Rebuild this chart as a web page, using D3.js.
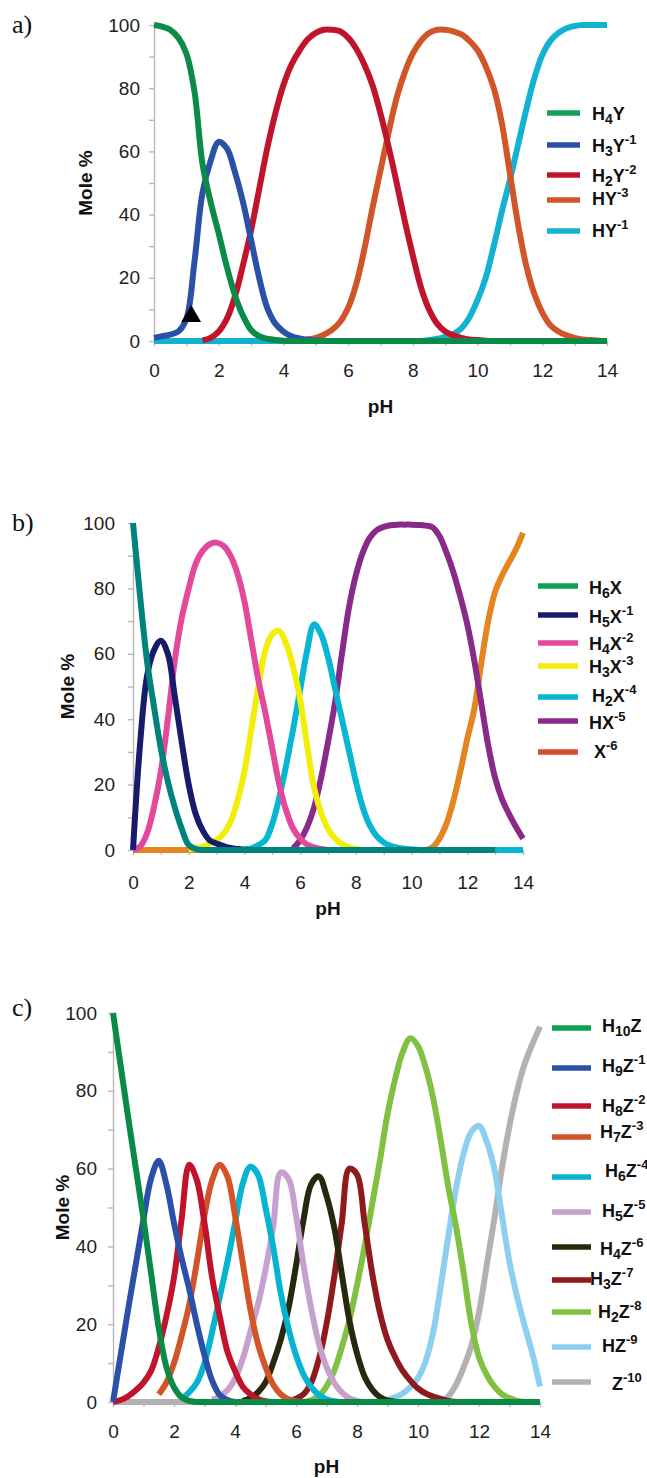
<!DOCTYPE html>
<html>
<head>
<meta charset="utf-8">
<script src="https://cdn.jsdelivr.net/npm/d3@7"></script>
<style>
  body { margin: 0; background: #fff; }
  svg text { font-family: "Liberation Sans", Arial, Helvetica, sans-serif; }
</style>
</head>
<body>
<svg id="chart" width="647" height="1478"></svg>
<script>
const _ = null; // no line drawn at this pH

// pH grid shared by every series (0.25 steps)
const pH = [
  0, 0.25, 0.5, 0.75, 1, 1.25, 1.5, 1.75, 2, 2.25, 2.5, 2.75, 3, 3.25, 3.5, 3.75,
  4, 4.25, 4.5, 4.75, 5, 5.25, 5.5, 5.75, 6, 6.25, 6.5, 6.75, 7, 7.25, 7.5, 7.75,
  8, 8.25, 8.5, 8.75, 9, 9.25, 9.5, 9.75, 10, 10.25, 10.5, 10.75, 11, 11.25, 11.5, 11.75,
  12, 12.25, 12.5, 12.75, 13, 13.25, 13.5, 13.75, 14
];
const xTicks = [0, 1, 2, 3, 4, 5, 6, 7, 8, 9, 10, 11, 12, 13, 14];
const xLabels = [0, 2, 4, 6, 8, 10, 12, 14];
const yTicks = [0, 10, 20, 30, 40, 50, 60, 70, 80, 90, 100];
const yLabels = [0, 20, 40, 60, 80, 100];

// ---- panel a ----
const aNames = ["H_4Y", "H_3Y^-1", "H_2Y^-2", "HY^-3", "HY^-1"];
const aH4Y = [
  100, 99.5, 98.5, 96,  91, 79, 56, 44,  34, 23.5, 14.5, 8,  3.5, 1.5, 0.7, 0.3,
  0.1, 0, 0, 0,  0, 0, 0, 0,  0, 0, 0, 0,  0, 0, 0, 0,
  0, 0, 0, 0,  0, 0, 0, 0,  0, 0, 0, 0,  0, 0, 0, 0,  0, 0, 0, 0,  0, 0, 0, 0,  0
];
const aH3Y = [
  1, 1.5, 2, 3,  7, 25, 47, 57,  63, 61, 53.5, 44,  32, 20, 10.5, 5.5,
  3, 1.5, 0.8, 0.4,  0.2, 0, 0, 0,  0, 0, 0, 0,  0, 0, 0, 0,
  0, 0, 0, 0,  0, 0, 0, 0,  0, 0, 0, 0,  0, 0, 0, 0,  0, 0, 0, 0,  0, 0, 0, 0,  0
];
const aH2Y = [
  _, _, _, _,  _, _, 0.2, 1,  3, 7, 14, 24,  35, 48, 61, 72,
  81, 87.5, 92, 95.5,  97.5, 98.5, 98.5, 98,  96, 92.5, 87.5, 81,  72, 61.5, 50, 38,
  27, 17, 10, 5.5,  3, 1.8, 1, 0.5,  0.3, 0.1, 0, 0,  0, 0, 0, 0,  0, 0, 0, 0,  0, 0, 0, 0,  0
];
const aHY3 = [
  _, _, _, _,  _, _, _, _,  _, _, _, _,  _, _, _, _,
  _, _, 0.2, 0.5,  1, 2, 3.5, 6,  10.5, 18, 29, 42,  54, 66, 77, 85,
  91, 95, 97.5, 98.5,  98.5, 98, 97, 95,  92, 87, 80, 69,  53, 37, 24, 15,  9, 5, 3, 1.8,  1, 0.5, 0.3, 0.1,  0
];
const aHY1 = [
  0, 0, 0, 0,  0, 0, 0, 0,  0, 0, 0, 0,  0, 0, 0, 0,
  0, 0, 0, 0,  0, 0, 0, 0,  0, 0, 0, 0,  0, 0, 0, 0,
  0, 0, 0.3, 0.7,  1.2, 2.2, 4, 7.5,  13, 20, 30, 41,  51, 62, 73, 83,  90.5, 95, 97.5, 99,  99.7, 100, 100, 100,  100
];
const aColors = ["#0b8a48", "#2a50a8", "#c0142c", "#d2552a", "#14b2d2"];
const aKeyColors = ["#14a05a", "#2a50a8", "#c0142c", "#d2552a", "#14b2d2"];
const markerPH = [1.15];
const markerMole = [7.8];

// ---- panel b ----
const bNames = ["H_6X", "H_5X^-1", "H_4X^-2", "H_3X^-3", "H_2X^-4", "HX^-5", "X^-6"];
const bH6X = [
  100, 78, 58, 44,  31, 21, 13, 6.5,  1.5, 0.3, 0, 0,  0, 0, 0, 0,
  0, 0, 0, 0,  0, 0, 0, 0,  0, 0, 0, 0,  0, 0, 0, 0,
  0, 0, 0, 0,  0, 0, 0, 0,  0, 0, 0, 0,  0, 0, 0, 0,  0, 0, 0, 0,  0, _, _, _,  _
];
const bH5X = [
  0, 32, 53, 61,  64, 60, 47, 33,  20, 11, 6, 3,  2, 1.2, 0.6, 0.3,
  0.1, 0, 0, 0,  0, 0, 0, 0,  0, 0, 0, 0,  0, 0, 0, 0,
  0, _, _, _,  _, _, _, _,  _, _, _, _,  _, _, _, _,  _, _, _, _,  _, _, _, _,  _
];
const bH4X = [
  0, 1, 5, 13,  24, 40, 58, 71,  80, 87.5, 91.5, 93.5,  94, 93, 90, 84.5,
  76, 64, 52, 42,  31, 20, 12, 6.5,  3.5, 1.7, 0.8, 0.3,  0, 0, 0, 0,
  0, _, _, _,  _, _, _, _,  _, _, _, _,  _, _, _, _,  _, _, _, _,  _, _, _, _,  _
];
const bH3X = [
  _, _, _, _,  _, _, _, _,  0.2, 0.5, 1, 2,  3, 5, 8.5, 15,
  24, 37, 50, 61,  66, 67, 63, 56,  46, 32, 19, 11.5,  6.5, 3.5, 1.8, 0.8,
  0.3, 0, 0, 0,  0, _, _, _,  _, _, _, _,  _, _, _, _,  _, _, _, _,  _, _, _, _,  _
];
const bH2X = [
  _, _, _, _,  _, _, _, _,  _, _, _, _,  _, _, _, _,
  0.2, 0.5, 1.5, 3,  8, 16, 26, 37,  49, 61, 69, 66,  59, 49.5, 40, 30.5,
  21, 13, 7.5, 4.2,  2.3, 1.3, 0.7, 0.4,  0.2, 0, 0, 0,  0, 0, 0, 0,  0, 0, 0, 0,  0, 0, 0, 0,  0
];
const bHX5 = [
  _, _, _, _,  _, _, _, _,  _, _, _, _,  _, _, _, _,
  _, _, _, _,  _, _, _, 0.5,  3, 7, 13, 22,  33, 45, 60, 74,
  84, 91, 95.5, 97.8,  98.8, 99.3, 99.5, 99.5,  99.5, 99.4, 99.2, 98.7,  96, 91, 85, 77.5,  69, 58, 45, 32,  22, 15.5, 11, 7,  3.5
];
const bX6 = [
  0, 0, 0, 0,  0, 0, 0, 0,  0, 0, 0, 0,  0, 0, 0, 0,
  0, 0, 0, 0,  0, 0, 0, 0,  0, 0, 0, 0,  0, 0, 0, 0,
  0, 0, 0, 0,  0, 0, 0, 0,  0, 0, 0, 0.8,  3.5, 8, 15, 24,  34, 43, 57, 70,  79, 84, 88, 92,  97
];
const bColors = ["#00837a", "#161b6c", "#e2489c", "#f2ee0a", "#06b6d2", "#8a2a88", "#e3861f"];
const bKeyColors = ["#0ca052", "#161b6c", "#e2489c", "#f2ee0a", "#06b6d2", "#8a2a88", "#d4502c"];

// ---- panel c ----
const cNames = ["H_10Z", "H_9Z^-1", "H_8Z^-2", "H_7Z^-3", "H_6Z^-4", "H_5Z^-5",
                "H_4Z^-6", "H_3Z^-7", "H_2Z^-8", "HZ^-9", "Z^-10"];
const cH10Z = [
  100, 86.5, 73, 60,  47, 33, 19, 9,  3.8, 1.2, 0.3, 0,  0, 0, 0, 0,
  0, 0, 0, 0,  0, 0, 0, 0,  0, 0, 0, 0,  0, 0, 0, 0,
  0, 0, 0, 0,  0, 0, 0, 0,  0, 0, 0, 0,  0, 0, 0, 0,  0, 0, 0, 0,  0, 0, 0, 0,  0
];
const cH9Z = [
  0, 12, 24, 35.5,  47, 57.5, 62, 56,  46, 37, 29, 20,  12, 5.5, 1.8, 0.5,
  0, 0, 0, 0,  0, _, _, _,  _, _, _, _,  _, _, _, _,
  _, _, _, _,  _, _, _, _,  _, _, _, _,  _, _, _, _,  _, _, _, _,  _, _, _, _,  _
];
const cH8Z = [
  0, 0.5, 1.5, 3,  5, 8, 14, 22,  32, 47, 61, 57,  46, 32, 22, 13,
  8, 4, 2, 0.8,  0.2, 0, 0, 0,  0, _, _, _,  _, _, _, _,
  _, _, _, _,  _, _, _, _,  _, _, _, _,  _, _, _, _,  _, _, _, _,  _, _, _, _,  _
];
const cH7Z = [
  _, _, _, _,  _, _, 2, 5,  10, 17, 25, 36,  48, 57, 61, 58,
  48, 36, 24, 15,  9, 4.5, 2, 0.7,  0.2, 0, 0, 0,  0, _, _, _,
  _, _, _, _,  _, _, _, _,  _, _, _, _,  _, _, _, _,  _, _, _, _,  _, _, _, _,  _
];
const cH6Z = [
  _, _, _, _,  _, _, _, _,  _, 0.8, 2.5, 5,  10, 18, 27, 36,
  46, 56, 60.5, 58.5,  50, 40, 28, 19,  12, 7, 3.8, 1.8,  0.7, 0.2, 0, 0,
  0, _, _, _,  _, _, _, _,  _, _, _, _,  _, _, _, _,  _, _, _, _,  _, _, _, _,  _
];
const cH5Z = [
  _, _, _, _,  _, _, _, _,  _, _, _, _,  _, 0.5, 1.5, 3,
  6, 11, 18, 25,  34, 45, 59, 57.5,  48, 35, 24, 15,  9, 5, 2.5, 1,
  0.3, 0, 0, 0,  0, _, _, _,  _, _, _, _,  _, _, _, _,  _, _, _, _,  _, _, _, _,  _
];
const cH4Z = [
  _, _, _, _,  _, _, _, _,  _, _, _, _,  _, _, _, _,
  _, 0.3, 1, 2.5,  5, 10, 16, 24,  35, 47, 56, 58,  53, 45, 33, 21,
  12.5, 6.5, 3.2, 1.3,  0.4, 0.1, 0, 0,  0, _, _, _,  _, _, _, _,  _, _, _, _,  _, _, _, _,  _
];
const cH3Z = [
  _, _, _, _,  _, _, _, _,  _, _, _, _,  _, _, _, _,
  _, _, _, _,  _, _, _, 0.3,  0.8, 2, 5, 11,  20, 32, 46, 60,
  58.5, 46, 33, 23,  16, 11.5, 8, 5.5,  3.5, 2.2, 1.4, 0.8,  0.3, 0, _, _,  _, _, _, _,  _, _, _, _,  _
];
const cH2Z = [
  _, _, _, _,  _, _, _, _,  _, _, _, _,  _, _, _, _,
  _, _, _, _,  _, _, _, _,  _, 0, 0.5, 1.5,  4, 8, 14, 21,
  30, 40, 51, 62,  74, 83, 90, 93.5,  91.5, 86, 78, 67,  55, 45, 33, 20,  11.5, 7, 4, 2,  1, 0.3, 0, _,  _
];
const cHZ = [
  _, _, _, _,  _, _, _, _,  _, _, _, _,  _, _, _, _,
  _, _, _, _,  _, _, _, _,  _, _, _, _,  _, _, _, _,
  _, _, _, 0,  0.5, 1.2, 2.2, 3.8,  6.2, 10.5, 18, 30,  43, 55, 64, 69.5,  71, 67, 60, 48,  36, 27, 19.5, 12.5,  4
];
const cZ = [
  0, 0, 0, 0,  0, 0, 0, 0,  0, 0, 0, 0,  0, 0, 0, 0,
  0, 0, 0, 0,  0, 0, 0, 0,  0, 0, 0, 0,  0, 0, 0, 0,
  0, 0, 0, 0,  0, 0, 0, 0,  0, 0, 0, 0,  1.5, 4.5, 9, 14.5,  23, 35, 47, 60,  71, 80, 87, 92,  96.5
];
const cColors = ["#0a8a48", "#2a50a8", "#c0142c", "#d2552a", "#06b4d2", "#c8a0d0",
                 "#28280f", "#8e1a1e", "#80c142", "#8ccff0", "#b2b2b2"];
const cKeyColors = ["#0ca052", "#2a50a8", "#c0142c", "#d2552a", "#06b4d2", "#c8a0d0",
                    "#28280f", "#8e1a1e", "#80c142", "#8ccff0", "#b2b2b2"];

// ---- layout ----
const panels = [
  {
    tag: "a)", tagY: 33,
    left: 154, right: 607, top: 25, bottom: 341,
    yPad: 9, xPad: 17.5, moleX: 85, pHY: 413, lineWidth: 6,
    names: aNames, values: [aH4Y, aH3Y, aH2Y, aHY3, aHY1], colors: aColors, keyColors: aKeyColors,
    key: { x1: 547, x2: 580,
           lineY: [113, 145, 175, 200, 231],
           textX: [592, 592, 592, 592, 592],
           textY: [120, 152, 182, 205, 237] },
    marker: true
  },
  {
    tag: "b)", tagY: 531,
    left: 133, right: 523, top: 523, bottom: 850,
    yPad: 13, xPad: 20.5, moleX: 67, pHY: 915, lineWidth: 6,
    names: bNames, values: [bH6X, bH5X, bH4X, bH3X, bH2X, bHX5, bX6], colors: bColors, keyColors: bKeyColors,
    key: { x1: 538, x2: 578,
           lineY: [586, 615, 643, 666, 697, 721, 752],
           textX: [589, 589, 589, 589, 592, 589, 594],
           textY: [594, 623, 650, 673, 702, 729, 758] }
  },
  {
    tag: "c)", tagY: 1016,
    left: 113, right: 540, top: 1013, bottom: 1402,
    yPad: 11, xPad: 17.5, moleX: 62, pHY: 1473, lineWidth: 6,
    names: cNames, values: [cH10Z, cH9Z, cH8Z, cH7Z, cH6Z, cH5Z, cH4Z, cH3Z, cH2Z, cHZ, cZ],
    colors: cColors, keyColors: cKeyColors,
    key: { x1: 552, x2: 591,
           lineY: [1028, 1068, 1106, 1137, 1177, 1212, 1247, 1280, 1312, 1347, 1382],
           textX: [602, 602, 602, 600, 605, 602, 600, 590, 598, 602, 612],
           textY: [1032, 1072, 1112, 1138, 1177, 1217, 1255, 1285, 1318, 1352, 1390] }
  }
];

const svg = d3.select("#chart");

// "H_3Y^-1" -> H, sub 3, Y, sup -1
function richText(text, label) {
  const parts = label.match(/_\d+|\^-?\d+|[^_^]+/g);
  let shift = 0;
  parts.forEach(p => {
    let kind = "n", s = p;
    if (p[0] === "_") { kind = "sub"; s = p.slice(1); }
    if (p[0] === "^") { kind = "sup"; s = p.slice(1); }
    const target = kind === "sub" ? 4 : kind === "sup" ? -8 : 0;
    const ts = text.append("tspan").text(s).attr("dy", target - shift);
    if (kind === "sub") ts.attr("font-size", 14);
    if (kind === "sup") ts.attr("font-size", 13);
    shift = target;
  });
}

function drawPanel(p) {
  const x = d3.scaleLinear().domain([0, 14]).range([p.left, p.right]);
  const y = d3.scaleLinear().domain([0, 100]).range([p.bottom, p.top]);
  const g = svg.append("g");

  g.append("text")
    .attr("x", 12).attr("y", p.tagY)
    .style("font-family", '"Liberation Serif", "Times New Roman", serif')
    .attr("font-size", 26).attr("fill", "#111")
    .text(p.tag);

  const yAxis = d3.axisLeft(y).tickValues(yTicks).tickSize(5).tickSizeOuter(0)
    .tickPadding(p.yPad)
    .tickFormat(d => yLabels.includes(d) ? d : "");
  const xAxis = d3.axisBottom(x).tickValues(xTicks).tickSize(5).tickSizeOuter(0)
    .tickPadding(p.xPad)
    .tickFormat(d => xLabels.includes(d) ? d : "");

  const gy = g.append("g").attr("transform", `translate(${p.left},0)`).call(yAxis);
  const gx = g.append("g").attr("transform", `translate(0,${p.bottom})`).call(xAxis);
  [gx, gy].forEach(a => {
    a.selectAll(".domain, .tick line").attr("stroke", "#b8b8b8").attr("stroke-width", 1.4);
    a.selectAll("text").attr("font-size", 19).attr("fill", "#222");
  });

  g.append("text")
    .attr("transform", `translate(${p.moleX},${(p.top + p.bottom) / 2}) rotate(-90)`)
    .attr("text-anchor", "middle").attr("dy", "0.35em")
    .attr("font-size", 19).attr("font-weight", "bold").attr("fill", "#111")
    .text("Mole %");
  g.append("text")
    .attr("x", (p.left + p.right) / 2).attr("y", p.pHY)
    .attr("text-anchor", "middle")
    .attr("font-size", 19).attr("font-weight", "bold").attr("fill", "#111")
    .text("pH");

  const line = d3.line()
    .defined(d => d[1] !== null)
    .x(d => x(d[0]))
    .y(d => y(d[1]))
    .curve(d3.curveCatmullRom.alpha(0.5));

  // first species ends up on top
  for (let i = p.values.length - 1; i >= 0; i--) {
    const vals = p.values[i];
    if (vals.length !== pH.length) throw new Error(p.names[i] + " has " + vals.length);
    g.append("path")
      .datum(pH.map((v, j) => [v, vals[j]]))
      .attr("d", line)
      .attr("fill", "none")
      .attr("stroke", p.colors[i])
      .attr("stroke-width", p.lineWidth)
      .attr("stroke-linejoin", "round");
  }

  if (p.marker) {
    g.selectAll(".marker")
      .data(markerPH.map((v, i) => [v, markerMole[i]]))
      .enter().append("path")
      .attr("transform", d => `translate(${x(d[0])},${y(d[1])})`)
      .attr("d", d3.symbol().type(d3.symbolTriangle).size(170))
      .attr("fill", "#000");
  }

  // legend
  p.names.forEach((name, i) => {
    g.append("line")
      .attr("x1", p.key.x1).attr("x2", p.key.x2)
      .attr("y1", p.key.lineY[i]).attr("y2", p.key.lineY[i])
      .attr("stroke", p.keyColors[i]).attr("stroke-width", 5.5);
    const t = g.append("text")
      .attr("x", p.key.textX[i]).attr("y", p.key.textY[i])
      .attr("font-size", 18).attr("font-weight", "bold").attr("fill", "#111");
    richText(t, name);
  });
}

panels.forEach(drawPanel);
</script>
</body>
</html>
